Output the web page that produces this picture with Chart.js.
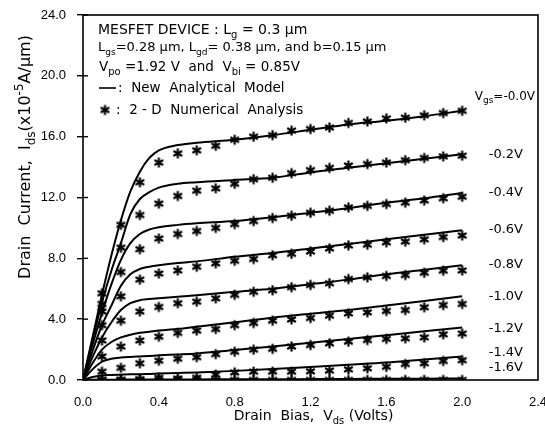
<!DOCTYPE html>
<html><head><meta charset="utf-8">
<script src="https://cdn.jsdelivr.net/npm/chart.js@4.4.0/dist/chart.umd.min.js"></script>
<style>html,body{margin:0;padding:0;background:#fff;}</style>
</head><body>
<canvas id="c" width="545" height="432"></canvas>
<script>
// ---- data ----
const vgsLabels = ['-0.0V','-0.2V','-0.4V','-0.6V','-0.8V','-1.0V','-1.2V','-1.4V','-1.6V'];
const labelY    = [18.6, 14.8, 12.3, 9.9, 7.6, 5.5, 3.4, 1.8, 0.8];
const xTickVals = [0, 0.4, 0.8, 1.2, 1.6, 2.0, 2.4];
const yTickVals = [0, 4, 8, 12, 16, 20, 24];

// analytical model (solid lines)
const vdsLine = [0,0.05,0.1,0.15,0.2,0.25,0.3,0.35,0.4,0.5,0.6,0.8,1.0,1.2,1.4,1.6,1.8,2.0];
const lineVgs00 = [0,2.8,5.6,8.2,10.5,12.4,13.7,14.6,15.1,15.45,15.6,15.8,16.1,16.45,16.8,17.05,17.35,17.7];
const lineVgs02 = [0,2.6,5.1,7.2,9.0,10.9,11.9,12.35,12.65,12.9,13.0,13.15,13.3,13.65,13.95,14.25,14.55,14.85];
const lineVgs04 = [0,2.3,4.4,6.3,7.9,9.0,9.6,9.9,10.05,10.2,10.3,10.45,10.7,11.0,11.3,11.65,11.95,12.3];
const lineVgs06 = [0,1.9,3.6,4.9,6.2,6.95,7.3,7.45,7.55,7.7,7.8,8.1,8.35,8.65,8.95,9.25,9.55,9.85];
const lineVgs08 = [0,1.5,2.8,3.8,4.6,5.05,5.25,5.32,5.38,5.48,5.58,5.8,6.0,6.3,6.6,6.95,7.25,7.55];
const lineVgs10 = [0,1.1,2.0,2.5,2.8,2.98,3.1,3.18,3.25,3.35,3.5,3.8,4.1,4.35,4.6,4.9,5.2,5.5];
const lineVgs12 = [0,0.7,1.2,1.4,1.48,1.52,1.55,1.58,1.62,1.68,1.75,1.98,2.2,2.45,2.7,2.95,3.2,3.45];
const lineVgs14 = [0,0.2,0.3,0.33,0.35,0.37,0.38,0.4,0.42,0.46,0.5,0.6,0.72,0.85,1.0,1.15,1.35,1.55];
const lineVgs16 = [0,0.01,0.02,0.02,0.02,0.03,0.03,0.03,0.03,0.04,0.04,0.05,0.05,0.06,0.07,0.08,0.09,0.1];

// 2-D numerical analysis (stars)
const vdsStar = [0.1,0.2,0.3,0.4,0.5,0.6,0.7,0.8,0.9,1.0,1.1,1.2,1.3,1.4,1.5,1.6,1.7,1.8,1.9,2.0];
const starVgs00 = [5.7,10.2,13.0,14.3,14.9,15.1,15.4,15.8,16.0,16.1,16.4,16.5,16.6,16.9,17.0,17.2,17.25,17.4,17.55,17.7];
const starVgs02 = [5.0,8.7,10.85,11.6,12.1,12.45,12.6,12.9,13.2,13.3,13.6,13.8,13.95,14.1,14.2,14.3,14.45,14.6,14.7,14.75];
const starVgs04 = [4.5,7.1,8.6,9.3,9.6,9.8,10.0,10.25,10.45,10.65,10.8,11.0,11.13,11.35,11.45,11.57,11.66,11.8,11.95,12.05];
const starVgs06 = [3.6,5.5,6.6,7.0,7.2,7.45,7.67,7.84,7.96,8.2,8.3,8.45,8.65,8.85,8.9,9.05,9.1,9.25,9.4,9.5];
const starVgs08 = [2.6,3.9,4.5,4.8,5.05,5.15,5.37,5.6,5.8,5.9,6.1,6.25,6.36,6.64,6.75,6.84,6.9,7.05,7.19,7.2];
const starVgs10 = [1.55,2.2,2.6,2.85,3.1,3.25,3.35,3.6,3.75,3.9,3.98,4.08,4.23,4.38,4.45,4.54,4.6,4.78,4.93,5.0];
const starVgs12 = [0.55,0.8,1.1,1.27,1.4,1.5,1.7,1.86,2.0,2.05,2.2,2.3,2.41,2.52,2.63,2.7,2.74,2.8,3.0,3.05];
const starVgs14 = [0,0,0.05,0.15,0.1,0.15,0.35,0.5,0.55,0.55,0.55,0.57,0.62,0.7,0.77,0.87,1.05,1.1,1.25,1.3];
const starVgs16 = [0,0,0,0,0,0,0,0,0,0,0,0,0,0,0,0,0,0,0,0];

const lineSeries = [lineVgs00,lineVgs02,lineVgs04,lineVgs06,lineVgs08,lineVgs10,lineVgs12,lineVgs14,lineVgs16];
const starSeries = [starVgs00,starVgs02,starVgs04,starVgs06,starVgs08,starVgs10,starVgs12,starVgs14,starVgs16];

// ---- star marker (6-spoke asterisk) ----
function makeStar(r, lw){
  const s = Math.ceil(2*r + lw + 2);
  const c = document.createElement('canvas'); c.width = s; c.height = s;
  const g = c.getContext('2d'); g.strokeStyle = '#000'; g.lineWidth = lw;
  const cx = s/2, cy = s/2;
  for (let k = 0; k < 3; k++){
    const a = Math.PI/2 + k*Math.PI/3;
    g.beginPath();
    g.moveTo(cx + r*Math.cos(a), cy + r*Math.sin(a));
    g.lineTo(cx - r*Math.cos(a), cy - r*Math.sin(a));
    g.stroke();
  }
  return c;
}
const starImg = makeStar(5, 2.2);

const datasets = [];
lineSeries.forEach((arr, i) => {
  datasets.push({
    label: 'Model Vgs=' + vgsLabels[i],
    data: vdsLine.map((x, j) => ({x, y: arr[j]})),
    borderColor: '#000', borderWidth: 2, pointRadius: 0,
    cubicInterpolationMode: 'monotone', fill: false
  });
});
starSeries.forEach((arr, i) => {
  datasets.push({
    label: '2-D Vgs=' + vgsLabels[i],
    data: vdsStar.map((x, j) => ({x, y: arr[j]})),
    showLine: false, pointStyle: starImg, pointRadius: 5,
    borderColor: '#000', backgroundColor: '#000'
  });
});

// ---- rich text helper ----
const FAM = '"DejaVu Sans", sans-serif';
function rich(ctx, x, y, parts, size, align){
  let total = 0;
  const fonts = parts.map(p => (p[1] === 'n' ? size : Math.round(size*0.72)) + 'px ' + FAM);
  parts.forEach((p, i) => { ctx.font = fonts[i]; total += ctx.measureText(p[0]).width; });
  let cx = align === 'center' ? x - total/2 : (align === 'right' ? x - total : x);
  ctx.textAlign = 'left';
  parts.forEach((p, i) => {
    ctx.font = fonts[i];
    const dy = p[1] === 'sub' ? size*0.3 : (p[1] === 'sup' ? -size*0.42 : 0);
    ctx.fillText(p[0], cx, y + dy);
    cx += ctx.measureText(p[0]).width;
  });
}

const decor = {
  id: 'decor',
  afterDraw(chart){
    const ctx = chart.ctx, a = chart.chartArea;
    const xs = chart.scales.x, ys = chart.scales.y;
    ctx.save();
    ctx.fillStyle = '#000'; ctx.strokeStyle = '#000';
    // frame
    ctx.lineWidth = 1.6;
    ctx.strokeRect(a.left, a.top, a.right - a.left, a.bottom - a.top);
    // inner y ticks
    ctx.lineWidth = 1.4;
    yTickVals.forEach(v => {
      const py = ys.getPixelForValue(v);
      ctx.beginPath(); ctx.moveTo(a.left, py); ctx.lineTo(a.left + 5, py); ctx.stroke();
    });
    ctx.textBaseline = 'alphabetic';
    // description text
    const L = a.left;
    rich(ctx, L + 15, 34, [['MESFET DEVICE : L','n'],['g','sub'],[' = 0.3 μm','n']], 14);
    rich(ctx, L + 15, 51, [['L','n'],['gs','sub'],['=0.28 μm, L','n'],['gd','sub'],['= 0.38 μm, and b=0.15 μm','n']], 13);
    rich(ctx, L + 16, 71, [['V','n'],['po','sub'],[' =1.92 V  and  V','n'],['bi','sub'],[' = 0.85V','n']], 13.5);
    ctx.lineWidth = 1.6;
    ctx.beginPath(); ctx.moveTo(L + 16, 88); ctx.lineTo(L + 33, 88); ctx.stroke();
    rich(ctx, L + 35, 92, [[':  New  Analytical  Model','n']], 13.5);
    ctx.drawImage(starImg, L + 22 - starImg.width/2, 110 - starImg.height/2);
    rich(ctx, L + 33, 114, [[':  2 - D  Numerical  Analysis','n']], 13.5);
    // curve labels
    ctx.textBaseline = 'middle';
    vgsLabels.forEach((t, i) => {
      const py = ys.getPixelForValue(labelY[i]);
      if (i === 0) rich(ctx, a.right - 3, py, [['V','n'],['gs','sub'],['=' + t,'n']], 12, 'right');
      else rich(ctx, xs.getPixelForValue(2.14), py, [[t,'n']], 13);
    });
    ctx.textBaseline = 'alphabetic';
    // axis titles
    rich(ctx, (a.left + a.right)/2 + 3, 420, [['Drain  Bias,  V','n'],['ds','sub'],[' (Volts)','n']], 14, 'center');
    ctx.translate(30, 157); ctx.rotate(-Math.PI/2);
    rich(ctx, 0, 0, [['Drain  Current,  I','n'],['ds','sub'],['(x10','n'],['-5','sup'],['A/μm)','n']], 16, 'center');
    ctx.restore();
  }
};

new Chart(document.getElementById('c'), {
  type: 'line',
  data: { datasets },
  options: {
    responsive: false, animation: false, devicePixelRatio: 1,
    layout: { padding: { top: 15, right: 7, left: 0, bottom: 0 } },
    plugins: { legend: { display: false }, tooltip: { enabled: false } },
    scales: {
      x: {
        type: 'linear', min: 0, max: 2.4,
        afterBuildTicks: s => { s.ticks = xTickVals.map(v => ({value: v})); },
        afterFit: s => { s.height = 52; s.paddingLeft = 0; s.paddingRight = 0; },
        grid: { display: false }, border: { display: false },
        ticks: { color: '#000', padding: 7, maxRotation: 0, autoSkip: false,
                 font: { family: '"Liberation Sans", Arial, sans-serif', size: 13 },
                 callback: v => Number(v).toFixed(1) }
      },
      y: {
        type: 'linear', min: 0, max: 24,
        afterBuildTicks: s => { s.ticks = yTickVals.map(v => ({value: v})); },
        afterFit: s => { s.width = 83; s.paddingTop = 0; s.paddingBottom = 0; },
        grid: { display: true, drawOnChartArea: false, drawTicks: true, tickLength: 6, color: '#000', lineWidth: 1.4 },
        border: { display: false },
        ticks: { color: '#000', padding: 11, autoSkip: false,
                 font: { family: '"Liberation Sans", Arial, sans-serif', size: 13 },
                 callback: v => Number(v).toFixed(1) }
      }
    }
  },
  plugins: [decor]
});
</script>
</body></html>
